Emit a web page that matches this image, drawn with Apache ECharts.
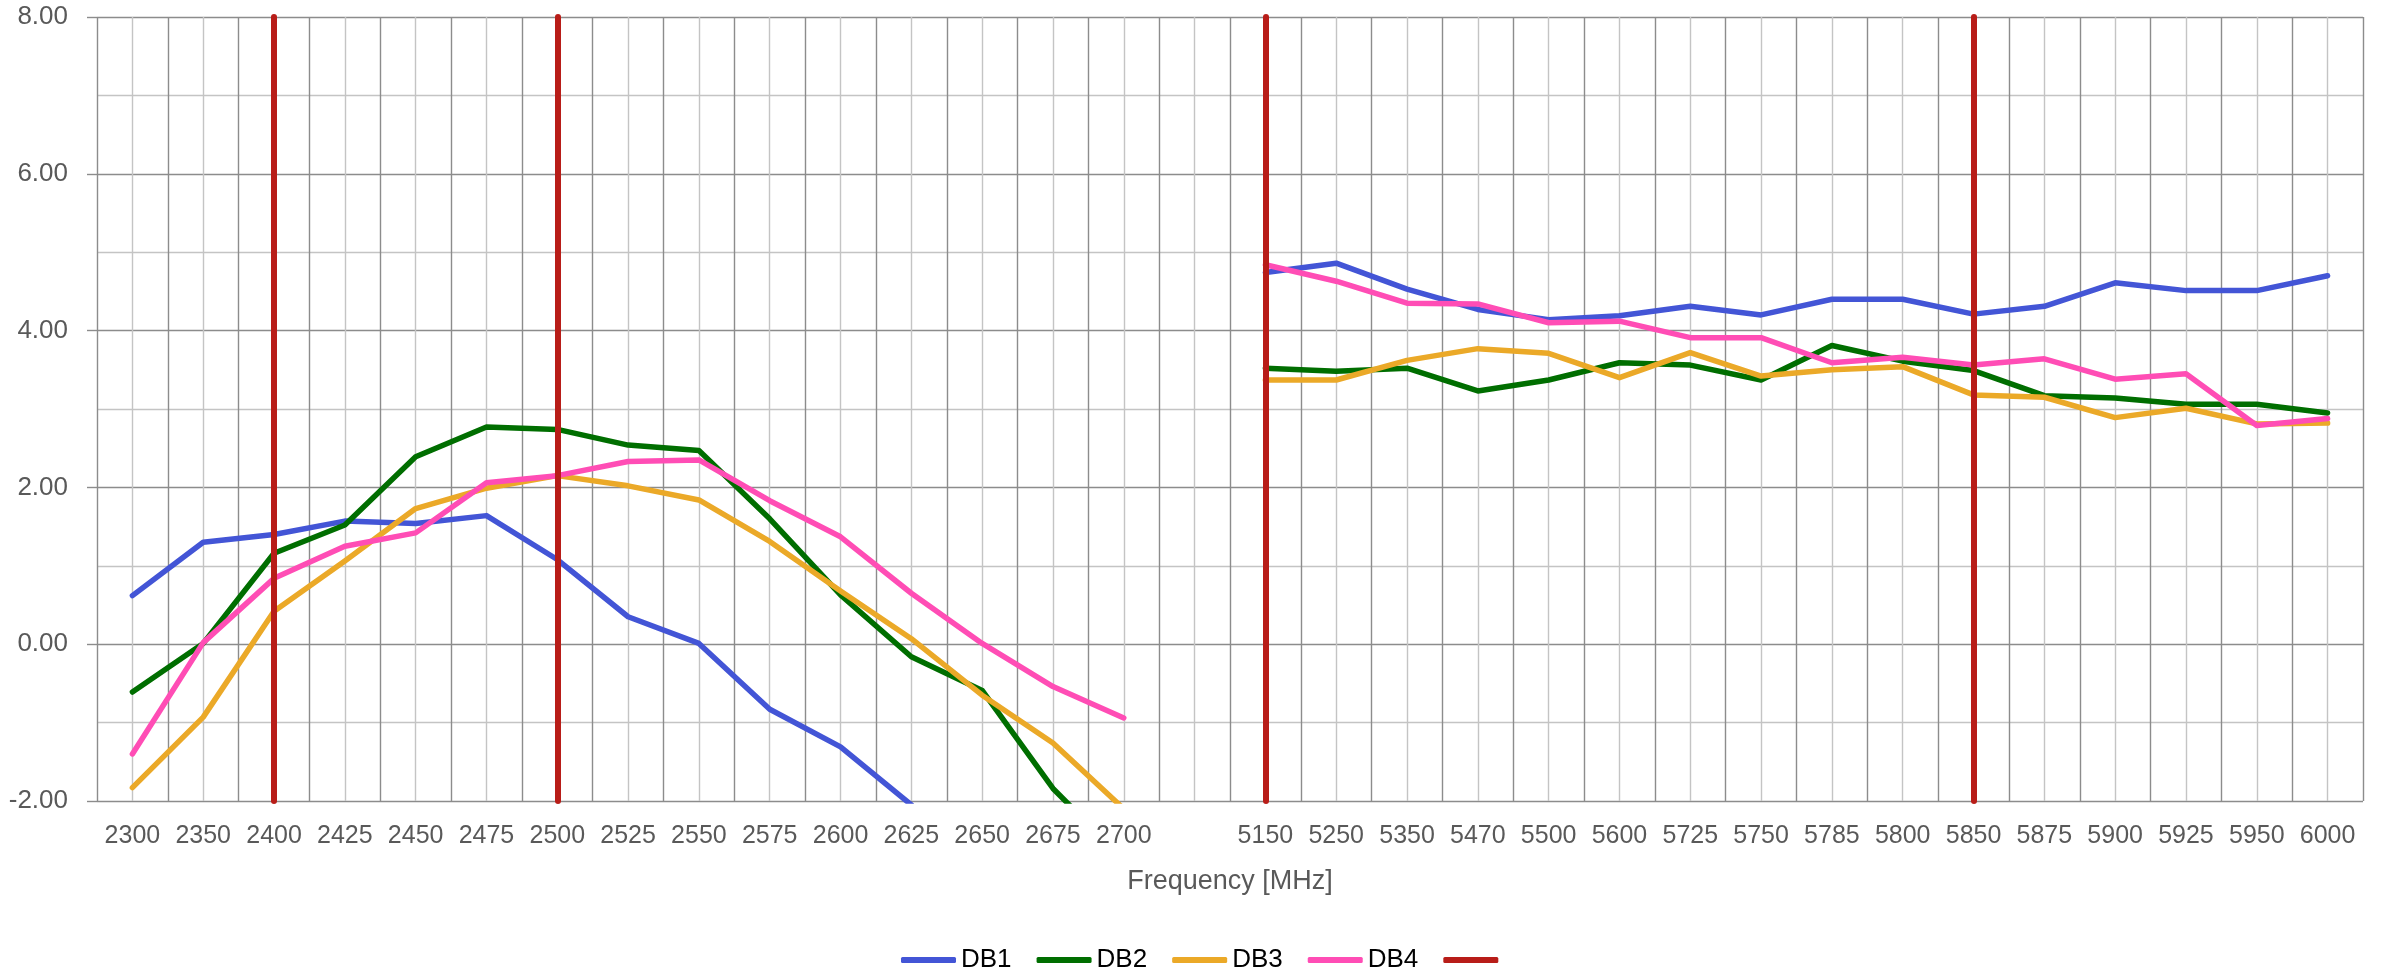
<!DOCTYPE html>
<html><head><meta charset="utf-8">
<script src="https://cdn.jsdelivr.net/npm/echarts@6/dist/echarts.min.js"></script>
<style>html,body{margin:0;padding:0;background:#fff}#c{width:2386px;height:972px}</style>
</head><body><div id="c"></div><script>
const categories = ['2300','2350','2400','2425','2450','2475','2500','2525','2550','2575','2600','2625','2650','2675','2700','',
  '5150','5250','5350','5470','5500','5600','5725','5750','5785','5800','5850','5875','5900','5925','5950','6000'];
const DB1 = [0.62,1.30,1.40,1.57,1.54,1.64,1.08,0.35,0.01,-0.83,-1.31,-2.05,null,null,null, null,
  4.74,4.86,4.53,4.27,4.14,4.19,4.31,4.20,4.40,4.40,4.21,4.31,4.61,4.51,4.51,4.70];
const DB2 = [-0.61,0.01,1.16,1.52,2.39,2.77,2.74,2.54,2.47,1.60,0.63,-0.16,-0.59,-1.84,-2.75, null,
  3.52,3.48,3.52,3.23,3.37,3.59,3.56,3.37,3.81,3.61,3.49,3.17,3.14,3.06,3.06,2.95];
const DB3 = [-1.83,-0.93,0.42,1.06,1.73,1.99,2.15,2.02,1.84,1.31,0.68,0.07,-0.65,-1.26,-2.10, null,
  3.37,3.37,3.62,3.77,3.71,3.40,3.72,3.42,3.50,3.54,3.18,3.15,2.89,3.01,2.81,2.82];
const DB4 = [-1.40,0.02,0.84,1.25,1.42,2.06,2.15,2.33,2.35,1.83,1.37,0.65,0.01,-0.54,-0.94, null,
  4.84,4.63,4.35,4.34,4.10,4.12,3.91,3.91,3.59,3.66,3.56,3.64,3.38,3.45,2.79,2.88];
const redMarks = ['2400','2500','5150','5850'];
const yTicks = [-2,0,2,4,6,8];

const FONT = 'Liberation Sans';
const colors = {DB1:'#4355D6', DB2:'#006E00', DB3:'#EBA928', DB4:'#FF4DB5', red:'#B81D18'};
const chart = echarts.init(document.getElementById('c'), null, {renderer:'canvas'});

function lineSeries(name, data, color){
  return {name, type:'line', data, xAxisIndex:0, yAxisIndex:0, symbol:'none', showSymbol:false,
    color, lineStyle:{color, width:5.5, cap:'round', join:'round'}, connectNulls:false, clip:true,
    emphasis:{disabled:true}, z:3, animation:false};
}

const option = {
  animation:false,
  grid:{left:97, right:23, top:17, bottom:171, containLabel:false},
  xAxis:[
    {type:'category', data:categories, boundaryGap:true,
     axisLine:{show:false}, axisTick:{show:false}, splitLine:{show:false},
     axisLabel:{interval:0, color:'#595959', fontSize:25, fontFamily:FONT, margin:23},
     name:'Frequency [MHz]', nameLocation:'middle', nameGap:67,
     nameTextStyle:{color:'#595959', fontSize:27, fontFamily:FONT}},
    {type:'value', min:0, max:64, interval:1, position:'bottom',
     axisLine:{show:false}, axisTick:{show:false}, axisLabel:{show:false},
     splitLine:{show:true, lineStyle:{color:['#8c8c8c','#c4c4c4'], width:1.4}}}
  ],
  yAxis:[
    {type:'value', min:-2, max:8, interval:1,
     axisLine:{show:false}, axisTick:{show:false}, axisLabel:{show:false},
     splitLine:{show:true, lineStyle:{color:['#8c8c8c','#c4c4c4'], width:1.4}}},
    {type:'value', min:-2, max:8, interval:2, position:'left',
     axisLine:{show:false}, splitLine:{show:false},
     axisTick:{show:true, length:10, inside:false, lineStyle:{color:'#8c8c8c', width:1.4}},
     axisLabel:{color:'#595959', fontSize:26, fontFamily:FONT, margin:29,
       formatter:(v)=> yTicks.includes(v) ? v.toFixed(2) : ''}}
  ],
  legend:{
    data:['DB1','DB2','DB3','DB4',' '],
    left:896, top:942, icon:'roundRect', itemWidth:55, itemHeight:6, itemGap:25,
    textStyle:{color:'#000', fontSize:26, fontFamily:FONT},
    selectedMode:false
  },
  series:[
    lineSeries('DB1', DB1, colors.DB1),
    lineSeries('DB2', DB2, colors.DB2),
    lineSeries('DB3', DB3, colors.DB3),
    lineSeries('DB4', DB4, colors.DB4),
    {name:' ', type:'line', data:[], color:colors.red, symbol:'none', z:5,
     lineStyle:{color:colors.red, width:6},
     markLine:{silent:true, symbol:['none','none'], label:{show:false}, z:5,
       lineStyle:{color:colors.red, width:6, type:'solid', cap:'round'},
       emphasis:{disabled:true},
       data: redMarks.map(c=>({xAxis:c}))}}
  ]
};
chart.setOption(option);
</script></body></html>
